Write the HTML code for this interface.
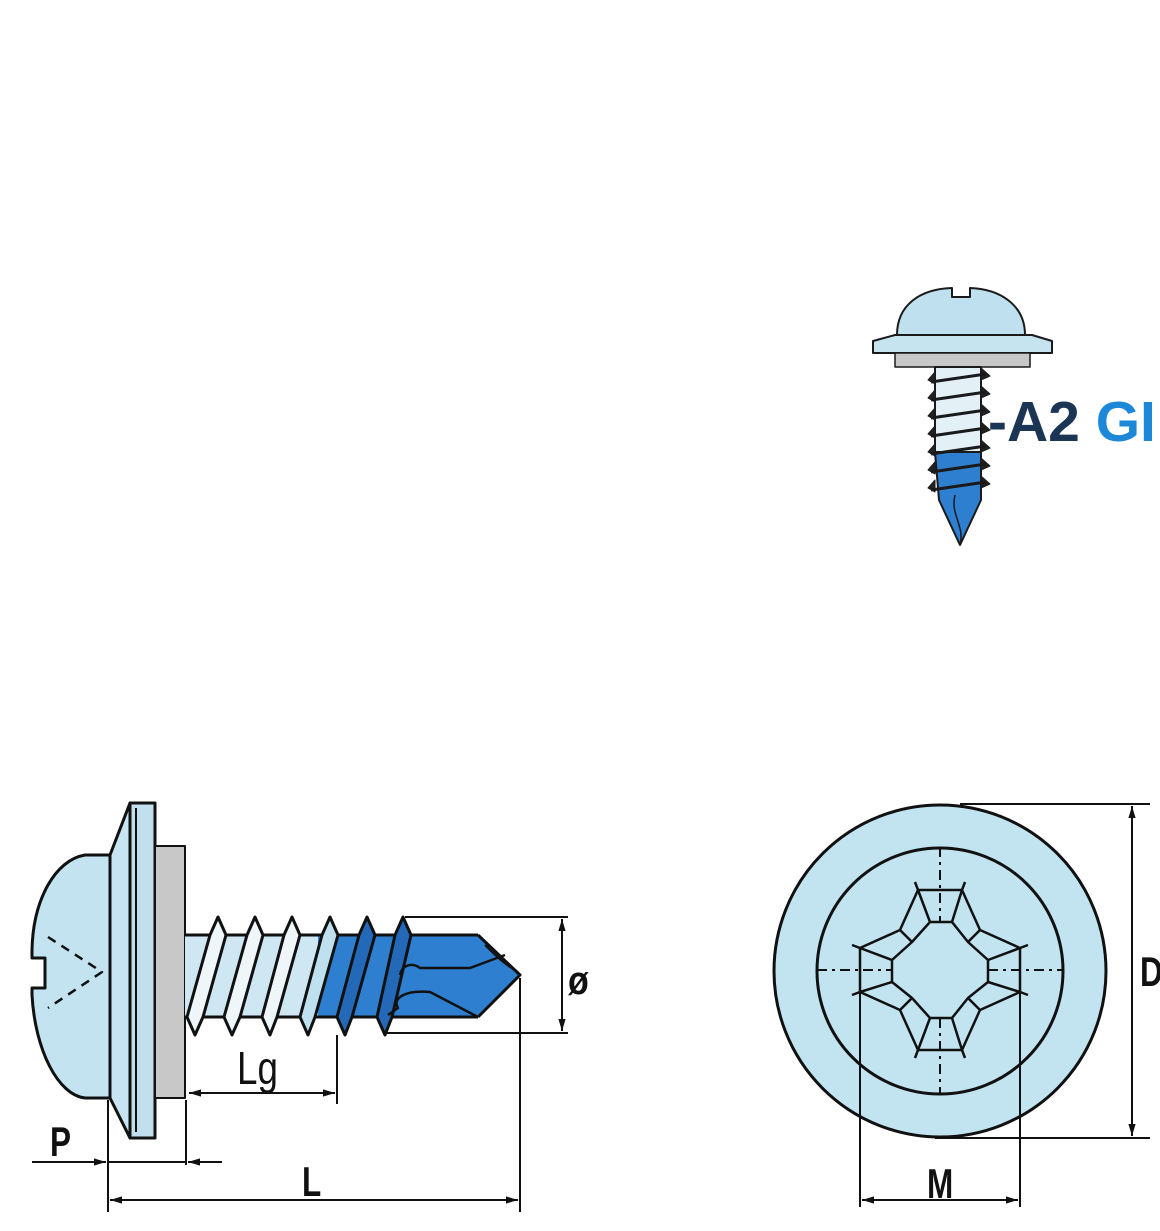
<!DOCTYPE html>
<html><head><meta charset="utf-8"><style>
html,body{margin:0;padding:0;background:#fff;}
svg{display:block;}
</style></head><body>
<svg width="1160" height="1231" viewBox="0 0 1160 1231" xmlns="http://www.w3.org/2000/svg" font-family="Liberation Sans, sans-serif">
<defs>
<marker id="ar" viewBox="0 0 10 10" refX="10" refY="5" markerWidth="12" markerHeight="12" orient="auto-start-reverse" markerUnits="userSpaceOnUse"><path d="M0,2 L10,5 L0,8 z" fill="#111"/></marker>
</defs>

<!-- ===== Top small screw ===== -->
<g stroke="#1a1a1a" stroke-width="2" stroke-linejoin="round">
  <path d="M897,335 C897,305 920,289 952,288 L952,297 L970,297 L970,288 C1000,289 1025,305 1025,335 Z" fill="#bfe0ee"/>
  <path d="M895,335 L1032,335 L1052,341 L1052,353 L873,353 L873,341 Z" fill="#c6e3f0"/>
  <rect x="895" y="353" width="135" height="14" fill="#c8c8c8" stroke-width="1.5"/>
  <rect x="935" y="367" width="46" height="85" fill="#e3f1f7"/>
  <path d="M935,452 L981,452 L981,500 L960,545 L939,500 Z" fill="#2f7fd0"/>
  <g fill="#222" stroke-width="1">
    <path d="M935,372 L928,380 L935,384 Z M981,368 L990,376 L981,380 Z"/>
    <path d="M935,390 L928,398 L935,402 Z M981,386 L990,394 L981,398 Z"/>
    <path d="M935,408 L928,416 L935,420 Z M981,404 L990,412 L981,416 Z"/>
    <path d="M935,426 L928,434 L935,438 Z M981,422 L990,430 L981,434 Z"/>
    <path d="M935,444 L928,452 L935,456 Z M981,440 L990,448 L981,452 Z"/>
    <path d="M935,462 L928,470 L935,474 Z M981,458 L990,466 L981,470 Z"/>
    <path d="M935,480 L928,488 L935,492 Z M981,476 L990,484 L981,488 Z"/>
  </g>
  <g fill="none" stroke-width="3">
    <path d="M931,382 L986,374"/><path d="M931,400 L986,392"/><path d="M931,418 L986,410"/>
    <path d="M931,436 L986,428"/><path d="M931,454 L986,446"/><path d="M931,472 L986,464"/>
    <path d="M931,490 L986,482"/>
  </g>
  <path d="M955,495 C950,515 965,525 960,545" fill="none" stroke-width="1.5"/>
</g>
<text x="988" y="441" font-size="57" font-weight="bold" fill="#1b3555">-A2 <tspan fill="#1e88d8">GI</tspan></text>

<!-- ===== Side view ===== -->
<g stroke="#111" stroke-width="3" stroke-linejoin="round">
  <path d="M110,855 L85,855 C55,860 33,900 32,950 L32,958 L45,958 L45,988 L32,988 L32,995 C35,1050 58,1095 85,1098 L110,1098 Z" fill="#c3e3f0"/>
  <path d="M110,855 L130,803 L130,1138 L110,1098 Z" fill="#c6e4f1"/>
  <rect x="130" y="803" width="25" height="335" fill="#c0e0ee"/>
  <line x1="136" y1="808" x2="136" y2="1132" stroke-width="2"/>
  <rect x="155" y="846" width="30" height="252" fill="#c8c8c8" stroke-width="2"/>
  <rect x="185" y="935" width="140" height="82" fill="#cfe7f3" stroke="none"/>
  <path d="M318,935 L478,935 L520,975 L478,1017 L318,1017 Z" fill="#2f7fd0" stroke="none"/>
  <line x1="185" y1="935" x2="478" y2="935"/><line x1="185" y1="1017" x2="478" y2="1017"/>
  <path d="M478,935 L520,975 L478,1017" fill="none"/>
  <g stroke-width="3">
    <path d="M210,935 L218,917 L226,935 L203,1017 L195,1035 L187,1017 Z" fill="#eef6fa"/>
    <path d="M247,935 L255,917 L263,935 L240,1017 L232,1035 L224,1017 Z" fill="#eef6fa"/>
    <path d="M284,935 L292,917 L300,935 L277,1017 L270,1035 L262,1017 Z" fill="#eef6fa"/>
    <path d="M322,935 L330,917 L338,935 L315,1017 L308,1035 L300,1017 Z" fill="#bfe0ee"/>
    <path d="M359,935 L367,917 L375,935 L352,1017 L345,1035 L337,1017 Z" fill="#2468b8"/>
    <path d="M395,935 L403,917 L411,935 L392,1017 L385,1035 L377,1017 Z" fill="#2468b8"/>
  </g>
  <path d="M388,1015 L398,1008 C392,998 405,990 430,992 L478,1017" fill="none" stroke-width="2.5"/>
  <path d="M400,975 C402,965 412,962 420,968 L470,968 L505,955" fill="none" stroke-width="2.5"/>
  <path d="M485,945 C495,955 505,965 518,972" fill="none" stroke-width="2"/>
  <path d="M48,937 L102,972 L48,1008" fill="none" stroke-width="2.5" stroke-dasharray="9,7"/>
</g>
<g stroke="#111" stroke-width="2" fill="none">
  <line x1="405" y1="917" x2="568" y2="917"/>
  <line x1="385" y1="1033" x2="568" y2="1033"/>
  <line x1="562" y1="919" x2="562" y2="1031" marker-start="url(#ar)" marker-end="url(#ar)"/>
  <line x1="337" y1="1035" x2="337" y2="1104"/>
  <line x1="189" y1="1093" x2="335" y2="1093" marker-start="url(#ar)" marker-end="url(#ar)"/>
  <line x1="32" y1="1162" x2="106" y2="1162" marker-end="url(#ar)"/>
  <line x1="108" y1="1162" x2="186" y2="1162"/>
  <line x1="222" y1="1162" x2="188" y2="1162" marker-end="url(#ar)"/>
  <line x1="108" y1="1100" x2="108" y2="1212"/>
  <line x1="186" y1="1100" x2="186" y2="1165"/>
  <line x1="520" y1="978" x2="520" y2="1212"/>
  <line x1="110" y1="1200" x2="518" y2="1200" marker-start="url(#ar)" marker-end="url(#ar)"/>
</g>
<g font-weight="bold" fill="#111" font-size="42">
  <text x="568" y="994" font-size="40" transform="translate(568,0) scale(0.85,1) translate(-568,0)">ø</text>
  <text x="237" y="1084" font-weight="normal" font-size="46" transform="translate(237,0) scale(0.8,1) translate(-237,0)">Lg</text>
  <text x="50" y="1156" transform="translate(50,0) scale(0.75,1) translate(-50,0)">P</text>
  <text x="302" y="1196" transform="translate(302,0) scale(0.75,1) translate(-302,0)">L</text>
  <text x="1140" y="986" transform="translate(1140,0) scale(0.75,1) translate(-1140,0)">D</text>
  <text x="927" y="1198" transform="translate(927,0) scale(0.75,1) translate(-927,0)">M</text>
</g>

<!-- ===== Front view ===== -->
<g stroke="#111" stroke-width="3">
  <circle cx="940" cy="971" r="166" fill="#c2e3f0"/>
  <circle cx="940" cy="971" r="123" fill="#c2e3f0"/>
</g>
<g transform="translate(940,970)" stroke="#111" fill="none" stroke-width="2.5" stroke-linejoin="round">
  <path d="M-22,-80 L22,-80 L40,-40 L80,-22 L80,22 L40,40 L22,80 L-22,80 L-40,40 L-80,22 L-80,-22 L-40,-40 Z"/>
  <path d="M-10,-48 L12,-48 L28,-28 L48,-10 L48,12 L28,28 L12,48 L-10,48 L-28,28 L-48,12 L-48,-10 L-28,-28 Z"/>
  <path d="M-22,-80 L-10,-48 M22,-80 L12,-48 M80,-22 L48,-10 M80,22 L48,12 M22,80 L12,48 M-22,80 L-10,48 M-80,22 L-48,12 M-80,-22 L-48,-10"/>
  <path d="M40,-40 L28,-28 M40,40 L28,28 M-40,40 L-28,28 M-40,-40 L-28,-28" />
  <path d="M-25,-88 L-22,-80 M25,-88 L22,-80 M88,-25 L80,-22 M88,25 L80,22 M25,88 L22,80 M-25,88 L-22,80 M-88,25 L-80,22 M-88,-25 L-80,-22"/>
  <g stroke-dasharray="10,5,3,5" stroke-width="2">
    <line x1="0" y1="-123" x2="0" y2="-48"/><line x1="0" y1="48" x2="0" y2="123"/>
    <line x1="-123" y1="0" x2="-48" y2="0"/><line x1="48" y1="0" x2="123" y2="0"/>
  </g>
</g>
<g stroke="#111" stroke-width="2" fill="none">
  <line x1="960" y1="804" x2="1150" y2="804"/>
  <line x1="935" y1="1138" x2="1150" y2="1138"/>
  <line x1="1132" y1="806" x2="1132" y2="1136" marker-start="url(#ar)" marker-end="url(#ar)"/>
  <line x1="860" y1="950" x2="860" y2="1207"/>
  <line x1="1020" y1="950" x2="1020" y2="1207"/>
  <line x1="862" y1="1200" x2="1018" y2="1200" marker-start="url(#ar)" marker-end="url(#ar)"/>
</g>
</svg>
</body></html>
